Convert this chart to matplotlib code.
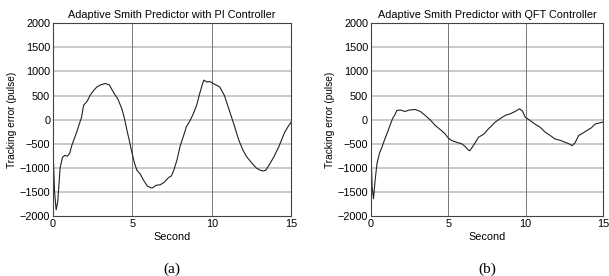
import matplotlib.pyplot as plt
import numpy as np

plt.rcParams['font.family'] = ['Liberation Sans', 'DejaVu Sans']

# (a) PI controller
t_pi = [0.0, 0.1, 0.2, 0.3, 0.45, 0.6, 0.75, 0.9, 1.05, 1.2, 1.45, 1.65, 1.8, 1.93, 2.15,
        2.35, 2.55, 2.77, 3.0, 3.3, 3.55, 3.82, 4.1, 4.34, 4.5, 4.66, 4.82, 4.97, 5.13,
        5.29, 5.5, 5.71, 5.95, 6.24, 6.5, 6.76, 7.0, 7.28, 7.45, 7.6, 7.8, 8.0, 8.2, 8.4,
        8.62, 8.84, 9.05, 9.25, 9.4, 9.5, 9.7, 9.88, 10.2, 10.5, 10.8, 11.1, 11.4, 11.7,
        11.95, 12.2, 12.5, 12.8, 13.0, 13.2, 13.4, 13.6, 13.9, 14.2, 14.4, 14.6, 14.8, 15.0]
e_pi = [-600, -1500, -1870, -1700, -1000, -780, -740, -760, -700, -520, -300, -100, 50, 300,
        380, 510, 600, 680, 720, 750, 720, 560, 420, 220, 30, -220, -450, -680, -900,
        -1050, -1130, -1260, -1380, -1420, -1360, -1350, -1300, -1200, -1170, -1060, -850,
        -560, -360, -150, -30, 120, 300, 550, 720, 820, 780, 790, 730, 680, 500, 200, -100,
        -420, -620, -770, -890, -1000, -1040, -1065, -1050, -950, -780, -580, -420, -260,
        -150, -50]

# (b) QFT controller
t_qft = [0.0, 0.08, 0.17, 0.26, 0.39, 0.55, 0.71, 0.87, 1.03, 1.2, 1.4, 1.55, 1.68, 1.9,
         2.2, 2.5, 2.87, 3.2, 3.5, 3.85, 4.16, 4.5, 4.8, 5.0, 5.24, 5.55, 5.9, 6.1, 6.3,
         6.4, 6.7, 6.96, 7.3, 7.6, 7.8, 8.04, 8.4, 8.7, 9.0, 9.33, 9.6, 9.8, 9.98, 10.3,
         10.6, 10.95, 11.27, 11.6, 11.9, 12.25, 12.56, 12.8, 13.0, 13.2, 13.43, 13.7,
         13.97, 14.25, 14.5, 14.75, 15.0]
e_qft = [-550, -1400, -1640, -1300, -920, -700, -575, -430, -300, -150, 20, 100, 190, 200,
         170, 200, 210, 170, 90, -10, -120, -210, -295, -380, -435, -470, -505, -560, -630,
         -645, -500, -365, -300, -190, -130, -50, 30, 90, 120, 170, 225, 180, 50, -20, -90,
         -160, -260, -330, -400, -430, -470, -500, -540, -480, -330, -280, -225, -170, -90,
         -70, -50]

panels = [
    (t_pi, e_pi, 'Adaptive Smith Predictor with PI Controller', '(a)'),
    (t_qft, e_qft, 'Adaptive Smith Predictor with QFT Controller', '(b)'),
]
lefts = [0.087, 0.609]
widths = [0.391, 0.381]

fig = plt.figure(figsize=(6.09, 2.76), dpi=100)

for (t, e, title, tag), left, width in zip(panels, lefts, widths):
    ax = fig.add_axes([left, 0.217, width, 0.699])
    ax.plot(t, e, color='#222222', lw=0.8)
    ax.set_xlim(0, 15)
    ax.set_ylim(-2000, 2000)
    ax.set_xticks([0, 5, 10, 15])
    ax.set_yticks(np.arange(-2000, 2001, 500))
    for y in np.arange(-1500, 2000, 500):
        ax.axhline(y, color='#bbbbbb', lw=1.1, zorder=0)
    for x in [5, 10]:
        ax.axvline(x, color='#777777', lw=0.7, zorder=0)
    ax.tick_params(labelsize=7.8, length=0, pad=2)
    for s in ax.spines.values():
        s.set_color('#444444')
        s.set_linewidth(0.8)
    ax.set_title(title, fontsize=7.8, pad=4)
    ax.set_xlabel('Second', fontsize=7.8, labelpad=2)
    ax.set_ylabel('Tracking error (pulse)', fontsize=7.3, labelpad=2)
    fig.text(left + width / 2, 0.0, tag, ha='center', va='bottom',
             fontsize=11, family='Liberation Serif')

fig.savefig('out.png', dpi=100)
